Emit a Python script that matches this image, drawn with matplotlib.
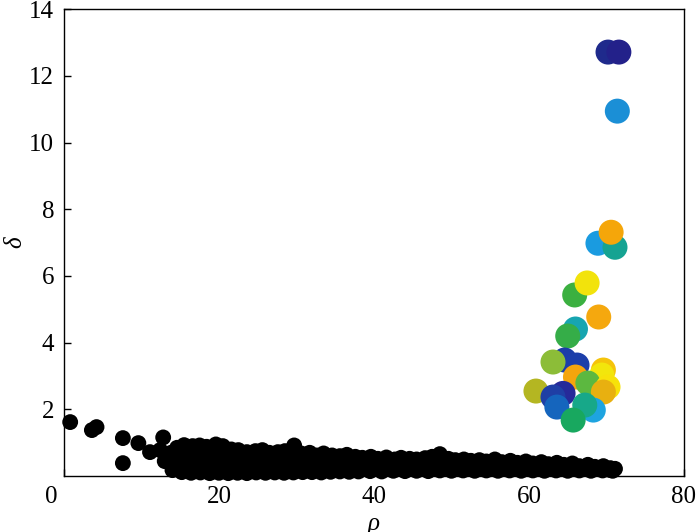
import matplotlib.pyplot as plt
from matplotlib import transforms

# isolated low-density points on the left
rho_iso = [0.8, 3.6, 4.2, 7.6, 7.6, 9.6, 11.1, 12.8, 12.4]
delta_iso = [1.62, 1.38, 1.47, 1.14, 0.39, 0.99, 0.72, 1.16, 0.78]

# dense band of ordinary points (upper, two middle, lower rows)
rho_top = [13.5, 14.6, 15.5, 16.6, 17.5, 18.4, 19.6, 20.5, 21.6, 22.5, 23.6, 24.7,
           25.6, 26.5, 27.6, 28.5, 29.7, 30.6, 31.7, 32.6, 33.5, 34.6, 35.6, 36.5,
           37.6, 38.5, 39.6, 40.5, 41.6, 42.7, 43.5, 44.6, 45.5, 46.6, 47.5, 48.5,
           49.6, 50.5, 51.6, 52.5, 53.6, 54.5, 55.6, 56.5, 57.6, 58.5, 59.6, 60.5,
           61.6, 62.5, 63.6, 64.5, 65.6, 66.5, 67.6, 68.5, 69.6, 70.5, 71.1]
delta_top = [0.55, 0.85, 0.93, 0.90, 0.92, 0.88, 0.95, 0.90, 0.80, 0.78, 0.72, 0.75,
             0.78, 0.70, 0.72, 0.75, 0.92, 0.68, 0.70, 0.62, 0.68, 0.62, 0.60, 0.64,
             0.58, 0.55, 0.58, 0.52, 0.56, 0.50, 0.55, 0.52, 0.50, 0.54, 0.58, 0.66,
             0.52, 0.48, 0.50, 0.46, 0.48, 0.44, 0.50, 0.42, 0.46, 0.40, 0.44, 0.38,
             0.42, 0.36, 0.40, 0.34, 0.38, 0.30, 0.34, 0.28, 0.30, 0.24, 0.22]

rho_mid2 = [13.8, 15.0, 16.1, 17.2, 18.3, 19.4, 20.5, 21.6, 22.7, 23.8, 24.9, 26.0,
            27.1, 28.2, 29.3, 30.4, 31.5, 32.6, 33.7, 34.8, 35.9, 37.0, 38.1, 39.2,
            40.3, 41.4, 42.5, 43.6, 44.7, 45.8, 46.9, 48.0, 49.1, 50.2]
delta_mid2 = [0.70, 0.72, 0.74, 0.70, 0.72, 0.74, 0.70, 0.64, 0.62, 0.60, 0.60, 0.61,
              0.58, 0.58, 0.62, 0.56, 0.55, 0.52, 0.54, 0.50, 0.48, 0.50, 0.46, 0.46,
              0.44, 0.44, 0.42, 0.42, 0.40, 0.41, 0.42, 0.45, 0.40, 0.38]

rho_mid = [13.0, 14.2, 15.3, 16.4, 17.6, 18.7, 19.9, 21.0, 22.2, 23.3, 24.5, 25.6,
           26.8, 27.9, 29.1, 30.2, 31.4, 32.5, 33.7, 34.8, 36.0, 37.1, 38.3, 39.4,
           40.6, 41.7, 42.9, 44.0, 45.2, 46.3, 47.5, 48.6, 49.8, 50.9, 52.1, 53.2,
           54.4, 55.5, 56.7, 57.8, 59.0, 60.1, 61.3, 62.4, 63.6, 64.7, 65.9, 67.0,
           68.2, 69.3, 70.4]
delta_mid = [0.45, 0.48, 0.46, 0.45, 0.44, 0.46, 0.44, 0.42, 0.40, 0.40, 0.41, 0.38,
             0.40, 0.37, 0.38, 0.37, 0.35, 0.36, 0.34, 0.35, 0.32, 0.33, 0.31, 0.32,
             0.30, 0.31, 0.29, 0.30, 0.28, 0.28, 0.29, 0.27, 0.28, 0.27, 0.28, 0.26,
             0.27, 0.26, 0.25, 0.26, 0.24, 0.25, 0.23, 0.24, 0.22, 0.23, 0.21, 0.22,
             0.20, 0.21, 0.19]

rho_low = [14.0, 15.2, 16.4, 17.6, 18.8, 20.0, 21.2, 22.4, 23.6, 24.8, 26.0, 27.2,
           28.4, 29.6, 30.8, 32.0, 33.2, 34.4, 35.6, 36.8, 38.0, 39.5, 41.0, 42.5,
           44.0, 45.5, 47.0, 48.5, 50.0, 51.5, 53.0, 54.5, 56.0, 57.5, 59.0, 60.5,
           62.0, 63.5, 65.0, 66.5, 68.0, 69.5, 70.8]
delta_low = [0.18, 0.12, 0.10, 0.11, 0.09, 0.10, 0.09, 0.10, 0.09, 0.11, 0.10, 0.11,
             0.10, 0.11, 0.12, 0.12, 0.11, 0.13, 0.14, 0.13, 0.14, 0.15, 0.14, 0.16,
             0.15, 0.16, 0.15, 0.17, 0.16, 0.17, 0.16, 0.17, 0.16, 0.17, 0.16, 0.17,
             0.16, 0.17, 0.16, 0.17, 0.16, 0.17, 0.16]

# cluster centres (high density, high delta)
rho_centers = [70.2, 71.6, 71.4, 68.9, 71.1, 70.6, 65.9, 67.5, 69.0, 66.0, 65.0,
               64.6, 66.2, 63.1, 69.6, 69.4, 66.0, 67.6, 70.2, 69.6, 60.9, 64.4,
               63.1, 63.6, 68.3, 67.2, 65.7]
delta_centers = [12.71, 12.71, 10.94, 6.98, 6.86, 7.31, 5.43, 5.79, 4.77, 4.41, 4.20,
                 3.48, 3.33, 3.42, 3.18, 3.03, 2.97, 2.79, 2.67, 2.52, 2.55, 2.48,
                 2.37, 2.07, 1.98, 2.13, 1.68]
center_colors = ["#1f2a8c", "#23218a", "#1b8fd6", "#1a9be0", "#15a392", "#f5a60a",
                 "#3bb040", "#f2e30c", "#f5a80e", "#17a5b0", "#35ad48", "#1b3da8",
                 "#1c3eaa", "#8cbd38", "#f5c40a", "#f2e60c", "#f5a50d", "#5cb840",
                 "#f7e20a", "#e8b010", "#b4b622", "#262a9a", "#1f3fa5", "#1565bd",
                 "#1ea4e0", "#17a889", "#18a85f"]

plt.rcParams["font.family"] = ["Liberation Serif", "DejaVu Serif"]

fig = plt.figure(figsize=(7, 5.32), dpi=100)
ax = fig.add_axes([0.0914, 0.105, 0.8857, 0.878])

# ordinary points
for xs, ys in [(rho_low, delta_low), (rho_mid, delta_mid), (rho_mid2, delta_mid2),
               (rho_top, delta_top), (rho_iso, delta_iso)]:
    ax.scatter(xs, ys, s=130, c="black", edgecolors="none", zorder=3, clip_on=False)

# cluster centres
ax.scatter(rho_centers, delta_centers, s=324, c=center_colors, edgecolors="none",
           zorder=4, clip_on=False)

ax.set_xlim(0, 80)
ax.set_ylim(0, 14)
ax.set_xticks([0, 20, 40, 60, 80])
ax.set_yticks([2, 4, 6, 8, 10, 12, 14])
ax.tick_params(direction="in", length=5, width=1, labelsize=18, pad=7,
               top=False, right=False)
for sp in ax.spines.values():
    sp.set_linewidth(1.0)

# "0" label sits slightly left of the origin
offset = transforms.ScaledTranslation(-0.13, 0, fig.dpi_scale_trans)
lab0 = ax.get_xticklabels()[0]
lab0.set_transform(lab0.get_transform() + offset)

ax.set_xlabel("ρ", fontsize=18, fontstyle="italic")
ax.set_ylabel("δ", fontsize=18, fontstyle="italic")
ax.xaxis.set_label_coords(0.5, -0.079)
ax.yaxis.set_label_coords(-0.061, 0.5)

plt.savefig("out.png", dpi=100)
